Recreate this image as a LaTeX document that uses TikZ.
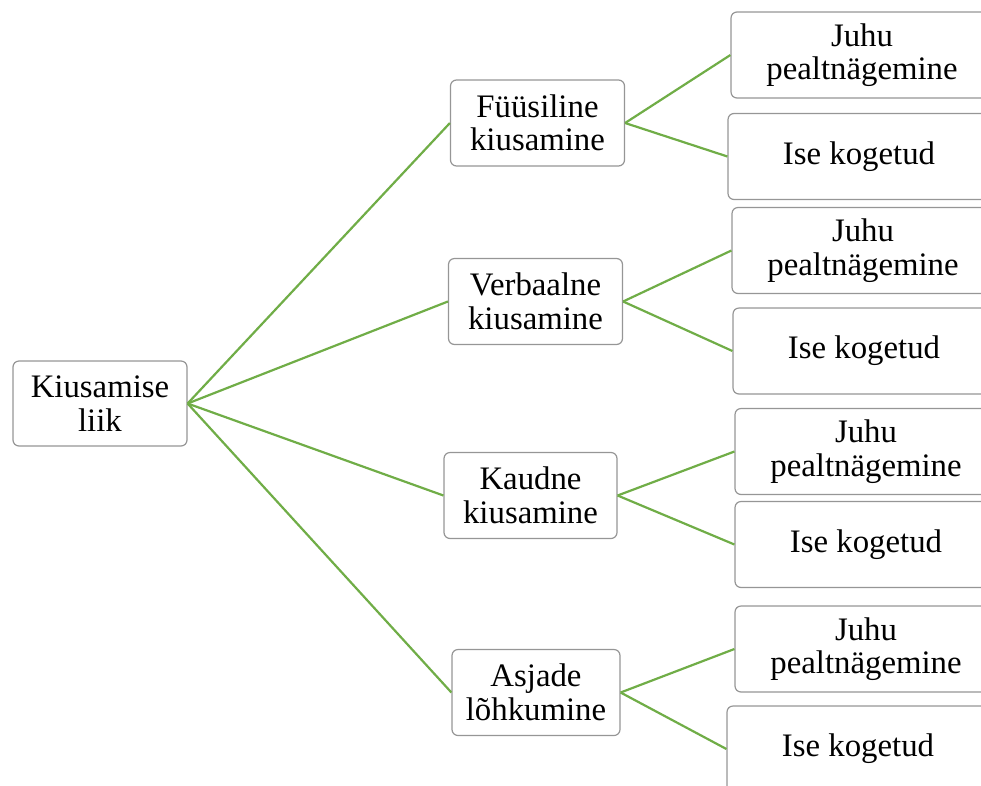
\documentclass[tikz,border=0pt]{standalone}
\usepackage{fontspec}
\setmainfont{Liberation Serif}
\definecolor{edgegreen}{RGB}{112,173,71}
\definecolor{boxgray}{RGB}{150,150,150}
\tikzset{
  box/.style={draw=boxgray, line width=1.2pt, rounded corners=6pt, fill=white,
    inner sep=0pt, align=center, font=\fontsize{32.8}{33.5}\selectfont},
  mid/.style={box, minimum width=174pt, minimum height=86pt},
  leaf/.style={box, minimum width=262pt, minimum height=86pt},
  link/.style={draw=edgegreen, line width=2.2pt}
}
\begin{document}
\begin{tikzpicture}[x=1pt,y=-1pt]
\useasboundingbox (0,0) rectangle (981,785);
% root
\node[box, minimum width=174pt, minimum height=85pt] (root) at (100,403.5) {Kiusamise\\liik};
% level 2
\node[mid] (f) at (537.5,123) {Füüsiline\\kiusamine};
\node[mid] (v) at (535.5,301.5) {Verbaalne\\kiusamine};
\node[mid, minimum width=173pt] (k) at (530.5,495.5) {Kaudne\\kiusamine};
\node[mid, minimum width=168pt] (a) at (536,692.5) {Asjade\\lõhkumine};
% leaves
\node[leaf] (f1) at (862,55) {Juhu\\pealtnägemine};
\node[leaf] (f2) at (859,156.5) {Ise kogetud};
\node[leaf] (v1) at (863,250.5) {Juhu\\pealtnägemine};
\node[leaf] (v2) at (864,351) {Ise kogetud};
\node[leaf] (k1) at (866,451.5) {Juhu\\pealtnägemine};
\node[leaf] (k2) at (866,544.5) {Ise kogetud};
\node[leaf] (a1) at (866,649) {Juhu\\pealtnägemine};
\node[leaf] (a2) at (858,749) {Ise kogetud};
% connectors
\draw[link] (root.east) -- (f.west);
\draw[link] (root.east) -- (v.west);
\draw[link] (root.east) -- (k.west);
\draw[link] (root.east) -- (a.west);
\foreach \p in {f,v,k,a}{
  \draw[link] (\p.east) -- (\p1.west);
  \draw[link] (\p.east) -- (\p2.west);
}
\end{tikzpicture}
\end{document}
